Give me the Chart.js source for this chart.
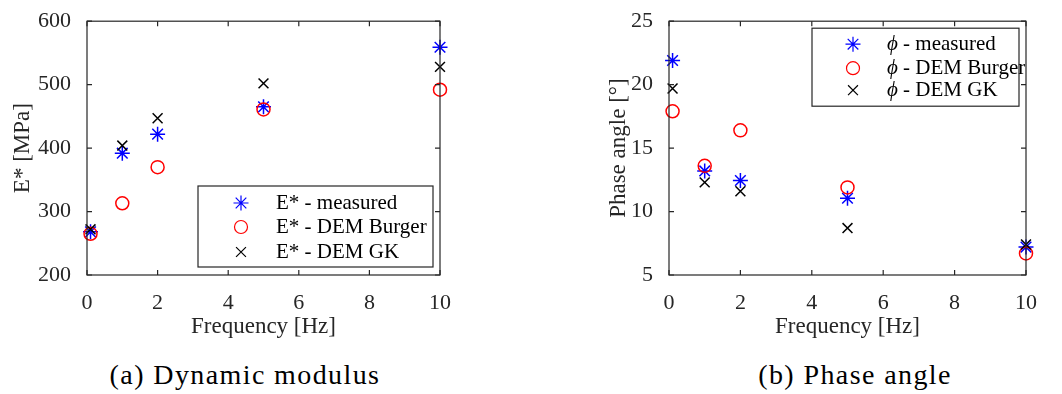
<!DOCTYPE html>
<html>
<head>
<meta charset="utf-8">
<script src="https://cdn.jsdelivr.net/npm/chart.js@4/dist/chart.umd.min.js"></script>
<style>
  body { margin: 0; background: #fff; width: 1062px; height: 394px; position: relative; overflow: hidden; }
  .panel { position: absolute; top: 0; width: 531px; height: 345px; }
  .cap { position: absolute; top: 358px; width: 400px; text-align: center; white-space: nowrap;
         font: 28px 'Liberation Serif', serif; letter-spacing: 1.4px; line-height: 34px; color: #000; }
</style>
</head>
<body>
<div class="panel" style="left:0"><canvas id="gMod" width="531" height="345"></canvas></div>
<div class="panel" style="left:531px"><canvas id="gPhase" width="531" height="345"></canvas></div>
<div class="cap" style="left:45px">(a) Dynamic modulus</div>
<div class="cap" style="left:655px">(b) Phase angle</div>
<script>
// datos
const frecuencias = [0.1, 1, 2, 5, 10]

const modMedido = [268, 392, 422, 465, 559]
const modBurger = [265, 313, 370, 461, 492]
const modGK = [272, 404, 447, 502, 528]

const faseMedida = [21.9, 13.2, 12.45, 11.05, 7.2]
const faseBurger = [17.9, 13.6, 16.4, 11.9, 6.7]
const faseGK = [19.7, 12.3, 11.6, 8.7, 7.4]

const etiquetasMod = ['E* - measured', 'E* - DEM Burger', 'E* - DEM GK']
const etiquetasFase = ['ϕ - measured', 'ϕ - DEM Burger', 'ϕ - DEM GK']

const EJE = '#262626'
Chart.defaults.font.family = "'Liberation Serif', serif"
Chart.defaults.color = EJE

const puntos = (ys) => frecuencias.map((x, i) => ({ x, y: ys[i] }))

function series(a, b, c, etiquetas) {
  return [
    { label: etiquetas[0], data: puntos(a), pointStyle: 'star', pointRadius: 7.5, borderColor: '#0000ff', order: 2 },
    { label: etiquetas[1], data: puntos(b), pointStyle: 'circle', pointRadius: 6.5, borderColor: '#ff0000', order: 1 },
    { label: etiquetas[2], data: puntos(c), pointStyle: 'crossRot', pointRadius: 7, borderColor: '#000000', order: 0 }
  ].map(d => ({ ...d, backgroundColor: 'rgba(0,0,0,0)', pointBorderWidth: 1.5, pointHoverRadius: d.pointRadius, clip: false }))
}

// marcas hacia adentro y caja completa
const cajaEjes = {
  id: 'cajaEjes',
  afterDraw(chart) {
    const { ctx, chartArea: a, scales } = chart
    ctx.save()
    ctx.strokeStyle = EJE
    ctx.lineWidth = 1.2
    ctx.strokeRect(a.left, a.top, a.right - a.left, a.bottom - a.top)
    const L = 5
    ctx.beginPath()
    scales.x.ticks.forEach(t => {
      const px = scales.x.getPixelForValue(t.value)
      ctx.moveTo(px, a.bottom); ctx.lineTo(px, a.bottom - L)
      ctx.moveTo(px, a.top); ctx.lineTo(px, a.top + L)
    })
    scales.y.ticks.forEach(t => {
      const py = scales.y.getPixelForValue(t.value)
      ctx.moveTo(a.left, py); ctx.lineTo(a.left + L, py)
      ctx.moveTo(a.right, py); ctx.lineTo(a.right - L, py)
    })
    ctx.stroke()
    ctx.restore()
  }
}

// leyenda dentro del area
const leyendaCaja = {
  id: 'leyendaCaja',
  afterDatasetsDraw(chart, args, o) {
    const { ctx, chartArea: a } = chart
    const x0 = a.right - o.dx - o.w
    const y0 = o.abajo ? a.bottom - o.dy - o.h : a.top + o.dy
    ctx.save()
    ctx.fillStyle = '#fff'
    ctx.fillRect(x0, y0, o.w, o.h)
    ctx.strokeStyle = EJE
    ctx.lineWidth = 1.2
    ctx.strokeRect(x0, y0, o.w, o.h)
    chart.data.datasets.forEach((d, i) => {
      const y = y0 + o.filas[i]
      ctx.strokeStyle = d.borderColor
      ctx.fillStyle = 'rgba(0,0,0,0)'
      Chart.helpers.drawPoint(ctx, { pointStyle: d.pointStyle, radius: d.pointRadius, borderWidth: 1.5, rotation: 0 }, x0 + o.mx, y)
      ctx.fillStyle = '#000'
      ctx.textBaseline = 'middle'
      let tx = x0 + o.tx
      let txt = d.label
      if (txt.startsWith('ϕ')) {
        ctx.font = "italic 21px 'Liberation Serif', serif"
        ctx.fillText('ϕ', tx, y)
        tx += ctx.measureText('ϕ').width
        txt = txt.slice(1)
      }
      ctx.font = "21px 'Liberation Serif', serif"
      ctx.fillText(txt, tx, y)
    })
    ctx.restore()
  }
}

function grafica(id, datasets, y, margenIzq, anchoY, derecha, leyenda) {
  return new Chart(document.getElementById(id), {
    type: 'scatter',
    data: { datasets },
    plugins: [cajaEjes, leyendaCaja],
    options: {
      responsive: false,
      animation: false,
      events: [],
      layout: { padding: { top: y.top, right: derecha, left: margenIzq, bottom: 0 } },
      plugins: { legend: { display: false }, tooltip: { enabled: false }, leyendaCaja: leyenda },
      scales: {
        x: {
          type: 'linear', min: 0, max: 10,
          ticks: { stepSize: 2, padding: 7, font: { size: 22 }, color: EJE, maxRotation: 0 },
          grid: { display: false },
          border: { display: false },
          title: { display: true, text: 'Frequency [Hz]', font: { size: 23 }, color: EJE, padding: { top: 0, bottom: 4 } },
          afterFit: s => { s.height = 70 }
        },
        y: {
          type: 'linear', min: y.min, max: y.max,
          ticks: { stepSize: y.paso, padding: 8, font: { size: 22 }, color: EJE },
          grid: { display: false },
          border: { display: false },
          title: { display: true, text: y.titulo, font: { size: 23 }, color: EJE, padding: { top: 0, bottom: 0 } },
          afterFit: s => { s.width = anchoY }
        }
      }
    }
  })
}

grafica('gMod', series(modMedido, modBurger, modGK, etiquetasMod),
  { min: 200, max: 600, paso: 100, top: 12, titulo: 'E* [MPa]' }, 9, 78, 91,
  { abajo: true, dx: 7, dy: 8, w: 235, h: 81, mx: 43, tx: 78, filas: [17, 41, 66] })

grafica('gPhase', series(faseMedida, faseBurger, faseGK, etiquetasFase),
  { min: 5, max: 25, paso: 5, top: 11, titulo: 'Phase angle [°]' }, 74, 64, 36,
  { abajo: false, dx: 7, dy: 7, w: 207, h: 78, mx: 41, tx: 75, filas: [16, 40, 62] })
</script>
</body>
</html>
